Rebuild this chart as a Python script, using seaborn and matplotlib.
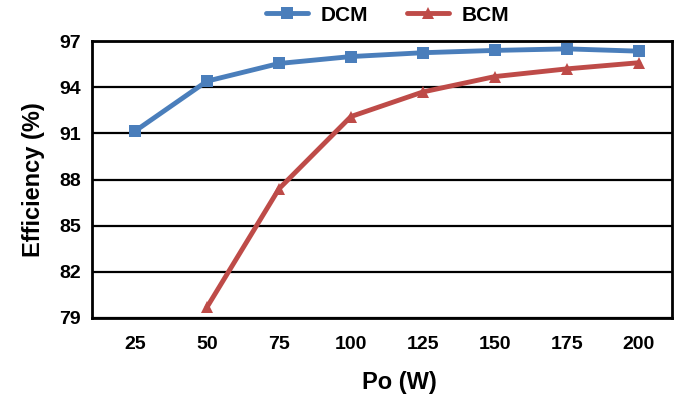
import matplotlib
matplotlib.use("Agg")
import matplotlib.pyplot as plt
import seaborn as sns
import pandas as pd

# Output power (W) and measured efficiency (%) for each conduction mode
power = [25, 50, 75, 100, 125, 150, 175, 200]
dcm_eff = [91.15, 94.4, 95.55, 96.0, 96.25, 96.4, 96.5, 96.35]
bcm_power = [50, 75, 100, 125, 150, 175, 200]
bcm_eff = [79.7, 87.4, 92.1, 93.7, 94.7, 95.2, 95.6]
y_ticks = [79, 82, 85, 88, 91, 94, 97]

df = pd.concat([
    pd.DataFrame({"Po": power, "Eff": dcm_eff, "Mode": "DCM"}),
    pd.DataFrame({"Po": bcm_power, "Eff": bcm_eff, "Mode": "BCM"}),
], ignore_index=True)

sns.set_style("white")
plt.rcParams["font.family"] = ["Liberation Sans", "DejaVu Sans"]
plt.rcParams["text.color"] = "black"
plt.rcParams["axes.labelcolor"] = "black"
plt.rcParams["xtick.color"] = "black"
plt.rcParams["ytick.color"] = "black"

fig = plt.figure(figsize=(6.9, 3.96), dpi=100)
ax = fig.add_axes([0.133, 0.197, 0.841, 0.699])

palette = {"DCM": "#4a7ebb", "BCM": "#be4b48"}
markers = {"DCM": "s", "BCM": "^"}
sns.lineplot(data=df, x="Po", y="Eff", hue="Mode", style="Mode",
             palette=palette, markers=markers, dashes=False,
             linewidth=3.5, markersize=8.5, markeredgewidth=0, ax=ax)

ax.set_xlim(10, 211.5)
ax.set_ylim(79, 97)
ax.set_xticks(power)
ax.set_yticks(y_ticks)
ax.grid(axis="y", color="black", linewidth=1.6)
ax.set_axisbelow(True)
for s in ax.spines.values():
    s.set_visible(True)
    s.set_color("black")
    s.set_linewidth(2)
ax.tick_params(axis="both", length=0, labelsize=14)
ax.tick_params(axis="x", pad=13)
ax.tick_params(axis="y", pad=8)
for lbl in ax.get_xticklabels() + ax.get_yticklabels():
    lbl.set_fontweight("bold")
ax.set_xlabel("Po (W)", fontsize=17, fontweight="bold", labelpad=13, x=0.53)
ax.set_ylabel("Efficiency (%)", fontsize=17, fontweight="bold", labelpad=10)

leg = ax.legend(loc="center", bbox_to_anchor=(0.51, 1.094), ncol=2,
                frameon=False, fontsize=15, handlelength=2.0,
                handletextpad=0.6, columnspacing=1.9, borderaxespad=0)
for t in leg.get_texts():
    t.set_fontweight("bold")

fig.savefig("out.png", dpi=100)
